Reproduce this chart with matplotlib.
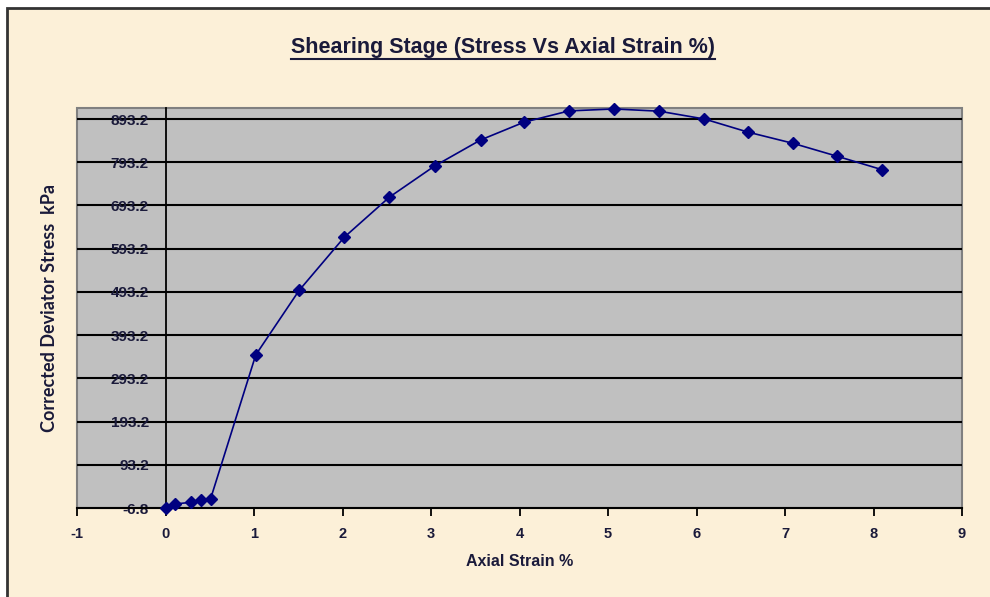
import matplotlib
matplotlib.use("Agg")
import matplotlib.pyplot as plt
from matplotlib.patches import Rectangle
from matplotlib.lines import Line2D
from matplotlib import font_manager

# ---- data ----
strain = [0.0, 0.11, 0.29, 0.40, 0.51, 1.02, 1.51, 2.02, 2.53, 3.04,
          3.56, 4.05, 4.56, 5.07, 5.58, 6.09, 6.58, 7.09, 7.59, 8.10]
stress = [-6.8, 2.5, 6.4, 11.0, 14.8, 347.5, 496.7, 619.7, 712.5, 784.4,
          844.7, 885.8, 912.0, 916.5, 911.3, 893.2, 863.0, 837.0, 807.0, 775.8]
x_ticks = [-1, 0, 1, 2, 3, 4, 5, 6, 7, 8, 9]
y_ticks = [-6.8, 93.2, 193.2, 293.2, 393.2, 493.2, 593.2, 693.2, 793.2, 893.2]
title = "Shearing Stage (Stress Vs Axial Strain %)"
xlabel = "Axial Strain %"
ylabel = "Corrected Deviator Stress  kPa"

names = {f.name for f in font_manager.fontManager.ttflist}
narrow = "Liberation Sans Narrow" if "Liberation Sans Narrow" in names else "Liberation Sans"

W, H = 990, 597
fig = plt.figure(figsize=(W / 100, H / 100), dpi=100, facecolor="white")

# chart background with border
bg = Rectangle((7 / W, -0.2), 1.2, 1.2 - 8 / H, transform=fig.transFigure,
               facecolor="#FCF0D8", edgecolor="#333333", linewidth=2, zorder=-10)
fig.patches.append(bg)

ax = fig.add_axes([77 / W, 1 - 508 / H, (962 - 77) / W, (508 - 108) / H])
ax.set_zorder(2)
ax.set_facecolor("#C0C0C0")
ax.patch.set_edgecolor("#808080")
ax.patch.set_linewidth(1.5)

ax.set_xlim(-1, 9)
ax.set_ylim(-6.8, 918.7)

for s in ["top", "right"]:
    ax.spines[s].set_visible(False)
ax.spines["left"].set_position(("data", 0))
ax.spines["left"].set_color("black")
ax.spines["left"].set_linewidth(1.3)
ax.spines["bottom"].set_color("black")
ax.spines["bottom"].set_linewidth(1.5)

ax.set_xticks(x_ticks)
ax.set_xticklabels([str(v) for v in x_ticks])
ax.set_yticks(y_ticks)
ax.set_yticklabels([f"{v:.1f}" for v in y_ticks])

for yv in y_ticks[1:]:
    ax.axhline(yv, color="black", linewidth=1.5, zorder=1)

ax.tick_params(axis="x", direction="out", length=6, width=1.3, color="black",
               pad=8, labelsize=10.5)
ax.tick_params(axis="y", length=0, pad=12, labelsize=11)
for lab in ax.get_xticklabels() + ax.get_yticklabels():
    lab.set_fontweight("bold")
    lab.set_color("#1a1a3a")
    lab.set_family([narrow, "DejaVu Sans"])

ax.plot(strain, stress, color="#000080", linewidth=1.2, marker="D",
        markersize=6.5, markerfacecolor="#000080", markeredgecolor="#000080",
        zorder=5, clip_on=False)

fig.text(520 / W, 1 - 562 / H, xlabel, ha="center", va="center",
         fontsize=11.5, fontweight="bold", color="#1a1a3a",
         family=[narrow, "DejaVu Sans"])
fig.text(50 / W, 1 - 308 / H, ylabel, ha="center", va="center",
         rotation=90, fontsize=13, color="#1a1a3a",
         family=["Lato", "DejaVu Sans"], fontweight="bold")

t = fig.text(503 / W, 1 - 47 / H, title, ha="center", va="center",
             fontsize=15.5, fontweight="bold", color="#1a1a3a",
             family=[narrow, "DejaVu Sans"])
fig.canvas.draw()
bb = t.get_window_extent(renderer=fig.canvas.get_renderer())
uy = bb.y0 - 1
fig.lines.append(Line2D([bb.x0 / W, bb.x1 / W], [uy / H, uy / H],
                        transform=fig.transFigure, color="#1a1a3a", linewidth=1.5))

fig.savefig("out.png", dpi=100, facecolor=fig.get_facecolor())
